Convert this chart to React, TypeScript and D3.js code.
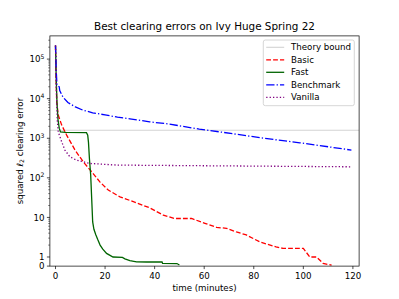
import React from "react";
import * as d3 from "d3";

const W = 399, H = 299;
const M = { left: 49.9, right: 359.1, top: 35.9, bottom: 266.1 };

const xTicks = [0, 20, 40, 60, 80, 100, 120];
const yMajorTicks = [0, 1, 10, 100, 1000, 10000, 100000];
const yTickLabels = ["0", "1", "10", "10^2", "10^3", "10^4", "10^5"];
const theoryBound = 1600;

const basicT = [0, 0.2, 0.5, 1.1, 2.5, 4.5, 7.9, 11.2, 14.6, 17.9, 21.3, 26, 31.4, 38, 43.5, 48, 54.9, 60.3, 65, 69, 73, 77, 82.5, 89, 91.8, 100, 102.6, 105.3, 108, 111.4];
const basicV = [220000, 40000, 8300, 3850, 2150, 1200, 500, 254, 142, 79, 49, 33, 25, 17.5, 11.4, 9.4, 9.4, 7.1, 5.6, 5.3, 4.3, 3.6, 2.4, 1.8, 1.65, 1.65, 1.0, 1.0, 0.3, 0.1];

const fastT = [0, 0.3, 0.6, 1.0, 1.5, 2.0, 4, 12.5, 13.0, 13.3, 13.7, 14.2, 14.6, 15, 15.5, 16.3, 17, 18, 19, 20.6, 22, 23.2, 27, 28, 30, 32.7, 36.8, 43, 43.2, 49, 50];
const fastV = [220000, 30000, 8000, 3000, 1800, 1450, 1400, 1380, 1200, 800, 300, 117, 30, 7.7, 5, 3.6, 2.8, 2.0, 1.6, 1.23, 1.1, 1.0, 0.95, 0.8, 0.6, 0.47, 0.45, 0.45, 0.3, 0.28, 0.12];

const benchT = [0, 0.3, 0.6, 1.5, 1.7, 3, 5, 8, 11, 15, 20, 25, 30, 38, 46, 58, 68, 78, 88, 98.6, 110, 119.4];
const benchV = [220000, 50000, 22000, 20000, 16000, 11000, 8000, 6200, 5150, 4400, 3900, 3420, 3100, 2600, 2280, 1700, 1400, 1135, 930, 768, 610, 502];

const vanillaT = [0, 0.3, 0.7, 1.1, 2.5, 3.8, 5.8, 8.5, 13.9, 24.7, 46, 80, 119.4];
const vanillaV = [220000, 20000, 3000, 1455, 813, 502, 340, 280, 231, 210, 205, 198, 190];

const L = 0.23;
const symT = (v: number) => (v <= 1 ? v * L : L + Math.log10(v));

const x = d3.scaleLinear().domain([-2.26, 122.5]).range([M.left, M.right]);
const yLin = d3.scaleLinear().domain([0, 5.816]).range([M.bottom, M.top]);
const y = (v: number) => yLin(symT(v));

const series = [
  { name: "Basic", t: basicT, v: basicV, color: "#ff0000", dash: "4.8,2.1" },
  { name: "Fast", t: fastT, v: fastV, color: "#006400", dash: "" },
  { name: "Benchmark", t: benchT, v: benchV, color: "#0000ff", dash: "8.3,2.1,1.3,2.1" },
  { name: "Vanilla", t: vanillaT, v: vanillaV, color: "#800080", dash: "1.3,2.1" },
];

const minorTicks: number[] = [];
for (let k = 0; k <= 5; k++) for (let m = 2; m <= 9; m++) {
  const v = m * Math.pow(10, k);
  if (symT(v) <= 5.816) minorTicks.push(v);
}

const font = "DejaVu Sans, sans-serif";

export default function App() {
  const line = d3.line<[number, number]>().x((d) => x(d[0])).y((d) => y(d[1]));
  const legendItems = [
    { name: "Theory bound", color: "#d3d3d3", dash: "" },
    ...series.map((s) => ({ name: s.name, color: s.color, dash: s.dash })),
  ];
  return (
    <svg width={W} height={H} style={{ position: "absolute", left: 0, top: 0 }} fontFamily={font}>
      <rect x={0} y={0} width={W} height={H} fill="#fff" />
      <defs>
        <clipPath id="clip">
          <rect x={M.left} y={M.top} width={M.right - M.left} height={M.bottom - M.top} />
        </clipPath>
      </defs>
      <g clipPath="url(#clip)">
        <line x1={M.left} x2={M.right} y1={y(theoryBound)} y2={y(theoryBound)} stroke="#d3d3d3" strokeWidth={1.1} />
        {series.map((s) => (
          <path
            key={s.name}
            d={line(s.t.map((t, i) => [t, s.v[i]] as [number, number])) || ""}
            fill="none"
            stroke={s.color}
            strokeWidth={1.3}
            strokeDasharray={s.dash || undefined}
          />
        ))}
      </g>
      <rect x={M.left} y={M.top} width={M.right - M.left} height={M.bottom - M.top} fill="none" stroke="#000" strokeWidth={0.7} />
      {xTicks.map((t) => (
        <g key={t}>
          <line x1={x(t)} x2={x(t)} y1={M.bottom} y2={M.bottom + 3} stroke="#000" strokeWidth={0.7} />
          <text x={x(t)} y={278.6} fontSize={8.67} textAnchor="middle">{t}</text>
        </g>
      ))}
      {minorTicks.map((v) => (
        <line key={v} x1={M.left - 1.7} x2={M.left} y1={y(v)} y2={y(v)} stroke="#000" strokeWidth={0.5} />
      ))}
      {yMajorTicks.map((v, i) => {
        const lab = yTickLabels[i];
        const parts = lab.split("^");
        return (
          <g key={v}>
            <line x1={M.left - 3} x2={M.left} y1={y(v)} y2={y(v)} stroke="#000" strokeWidth={0.7} />
            <text x={44.4} y={y(v) + 3.1} fontSize={8.67} textAnchor="end">
              {parts[0]}
              {parts[1] ? <tspan fontSize={6.1} dy={-3.6}>{parts[1]}</tspan> : null}
            </text>
          </g>
        );
      })}
      <text x={(M.left + M.right) / 2} y={290.5} fontSize={8.67} textAnchor="middle">time (minutes)</text>
      <text transform={`translate(22.5,${(M.top + M.bottom) / 2}) rotate(-90)`} fontSize={8.67} textAnchor="middle">
        squared <tspan fontStyle="italic">ℓ</tspan><tspan fontSize={6.1} dy={1.8}>2</tspan><tspan dy={-1.8}> clearing error</tspan>
      </text>
      <text x={(M.left + M.right) / 2} y={30.2} fontSize={10.4} textAnchor="middle">Best clearing errors on Ivy Huge Spring 22</text>
      <rect x={263.3} y={40} width={91} height={65.7} rx={2} fill="#fff" fillOpacity={0.8} stroke="#cccccc" strokeWidth={0.8} />
      {legendItems.map((it, i) => {
        const ly = 47.3 + i * 12.5;
        return (
          <g key={it.name}>
            <line x1={266.2} x2={284.2} y1={ly} y2={ly} stroke={it.color} strokeWidth={it.name === "Theory bound" ? 1.1 : 1.3} strokeDasharray={it.dash || undefined} />
            <text x={291} y={ly + 3.1} fontSize={8.67}>{it.name}</text>
          </g>
        );
      })}
    </svg>
  );
}
